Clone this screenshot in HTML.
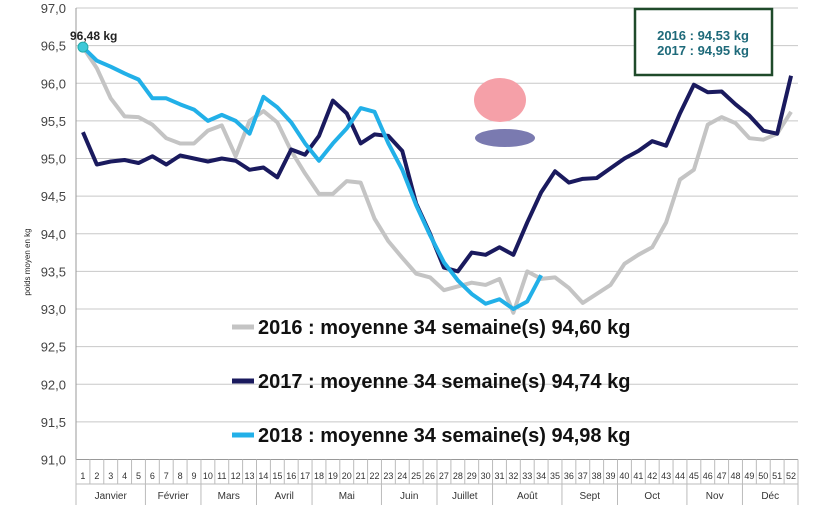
<!DOCTYPE html>
<html><head><meta charset="utf-8"><style>
body{margin:0;background:#fff;width:820px;height:520px;overflow:hidden;font-family:"Liberation Sans",sans-serif}
</style></head><body>
<svg id="s" width="820" height="520" xmlns="http://www.w3.org/2000/svg" font-family="Liberation Sans, sans-serif"></svg>
<script>
const s=document.getElementById('s');
const L=76,R=798,T=8,B=459.5;
const X=i=>L+(R-L)/52*(i-0.5);
const Y=v=>T+(97-v)*75.25;
let h='';
for(let k=0;k<=12;k++){const v=97-k*0.5,y=Y(v);
h+=`<line x1="${L}" x2="${R}" y1="${y}" y2="${y}" stroke="${k==12?'#999':'#c8c8c8'}" stroke-width="1"/>`;
h+=`<text x="${L-10}" y="${y+5}" text-anchor="end" font-size="13" fill="#444">${v.toFixed(1).replace('.',',')}</text>`;}
h+=`<line x1="${L}" x2="${L}" y1="${T}" y2="${B}" stroke="#999"/>`;
for(let i=0;i<=52;i++){const x=L+(R-L)/52*i;h+=`<line x1="${x}" x2="${x}" y1="${B}" y2="484" stroke="#bbb"/>`;
if(i<52)h+=`<text x="${x+(R-L)/104}" y="479" text-anchor="middle" font-size="9" fill="#333">${i+1}</text>`;}
const m=[[0,5,'Janvier'],[5,9,'Février'],[9,13,'Mars'],[13,17,'Avril'],[17,22,'Mai'],[22,26,'Juin'],[26,30,'Juillet'],[30,35,'Août'],[35,39,'Sept'],[39,44,'Oct'],[44,48,'Nov'],[48,52,'Déc']];
h+=`<line x1="${L}" x2="${R}" y1="484" y2="484" stroke="#bbb"/>`;
m.forEach(([a,b,n])=>{const xa=L+(R-L)/52*a,xb=L+(R-L)/52*b;h+=`<line x1="${xb}" x2="${xb}" y1="484" y2="505" stroke="#bbb"/><text x="${(xa+xb)/2}" y="499" text-anchor="middle" font-size="10" fill="#333">${n}</text>`;});
h+=`<line x1="${L}" x2="${L}" y1="484" y2="505" stroke="#bbb"/>`;
const d16=[96.48,96.2,95.8,95.56,95.55,95.45,95.27,95.2,95.2,95.37,95.44,95.03,95.5,95.63,95.48,95.1,94.8,94.53,94.53,94.7,94.68,94.2,93.9,93.68,93.47,93.42,93.25,93.3,93.35,93.32,93.4,92.95,93.5,93.4,93.42,93.28,93.08,93.2,93.32,93.6,93.72,93.82,94.15,94.72,94.85,95.45,95.55,95.47,95.27,95.25,95.33,95.62];
const d17=[95.35,94.92,94.96,94.98,94.94,95.03,94.92,95.04,95.0,94.96,95.0,94.97,94.85,94.88,94.75,95.12,95.05,95.3,95.77,95.6,95.2,95.32,95.3,95.1,94.4,94.0,93.55,93.5,93.75,93.72,93.82,93.72,94.15,94.55,94.83,94.68,94.73,94.74,94.87,95.0,95.1,95.23,95.17,95.6,95.98,95.88,95.89,95.72,95.57,95.37,95.33,96.1];
const d18=[96.48,96.3,96.22,96.13,96.05,95.8,95.8,95.72,95.65,95.5,95.58,95.5,95.33,95.82,95.68,95.48,95.2,94.97,95.2,95.4,95.67,95.62,95.2,94.85,94.38,93.98,93.62,93.38,93.2,93.07,93.13,93.0,93.1,93.45];
const pl=(d,c)=>`<polyline fill="none" stroke="${c}" stroke-width="4" stroke-linejoin="round" points="${d.map((v,i)=>X(i+1)+','+Y(v)).join(' ')}"/>`;
h+=pl(d16,'#c4c4c4')+pl(d17,'#1a1a5e')+pl(d18,'#22b0e8');
h+=`<circle cx="${X(1)}" cy="${Y(96.48)}" r="5" fill="#3cc8d8" stroke="#2aa" stroke-width="1"/>`;
h+=`<text x="70" y="40" font-size="12" font-weight="bold" fill="#222">96,48 kg</text>`;
h+=`<rect x="635" y="9" width="137" height="66" fill="#fff" stroke="#1f4a2a" stroke-width="2.5"/>`;
h+=`<text x="703" y="40" text-anchor="middle" font-size="13" font-weight="bold" fill="#1e6a7a">2016 : 94,53 kg</text><text x="703" y="55" text-anchor="middle" font-size="13" font-weight="bold" fill="#1e6a7a">2017 : 94,95 kg</text>`;
h+=`<ellipse cx="500" cy="100" rx="26" ry="22" fill="#f5a0a8"/><ellipse cx="505" cy="138" rx="30" ry="9" fill="#7a7ab0"/>`;
[[327,'#c4c4c4','2016 : moyenne 34 semaine(s) 94,60 kg'],[381,'#1a1a5e','2017 : moyenne 34 semaine(s) 94,74 kg'],[435,'#22b0e8','2018 : moyenne 34 semaine(s) 94,98 kg']].forEach(([y,c,t])=>{
h+=`<line x1="232" x2="254" y1="${y}" y2="${y}" stroke="${c}" stroke-width="5"/><text x="258" y="${y+7}" font-size="20" font-weight="bold" fill="#111">${t}</text>`;});
h+=`<text transform="translate(30,262) rotate(-90)" text-anchor="middle" font-size="8" fill="#222">poids moyen en kg</text>`;
s.innerHTML=h;
</script>
</body></html>
